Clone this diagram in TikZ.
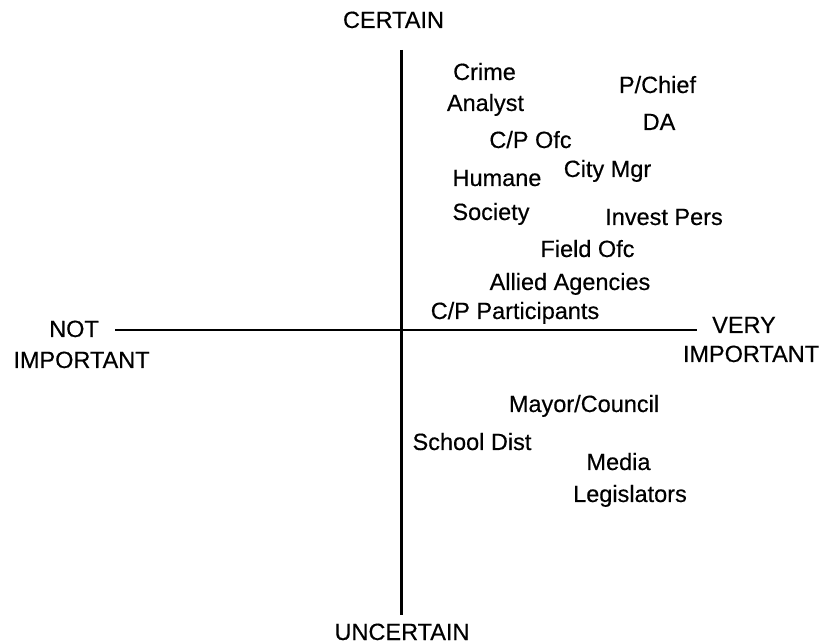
\documentclass[tikz,border=0pt]{standalone}
\usepackage{fontspec}
\setmainfont{Liberation Sans}
\newfontfamily\scanfont[FakeBold=0.4]{Liberation Sans}
\begin{document}
\begin{tikzpicture}[x=1pt,y=-1pt,
  lbl/.style={anchor=base,inner sep=0pt,font=\scanfont\fontsize{23.5}{28}\selectfont},
  axis/.style={line width=2.2pt,black}]
\useasboundingbox (0,0) rectangle (823,644);
% axes
\coordinate (vtop) at (401.5,50);
\coordinate (vbot) at (401.5,615);
\coordinate (hleft) at (115,330);
\coordinate (hright) at (697,330);
\draw[axis] (vtop) -- (vbot);
\draw[axis] (hleft) -- (hright);
% axis labels
\node[lbl] (certain) at (393.5,28) {CERTAIN};
\node[lbl] (uncertain) at (402,640) {UNCERTAIN};
\node[lbl] (not) at (74,337) {NOT};
\node[lbl] (impL) at (81.5,368) {IMPORTANT};
\node[lbl] (very) at (744,333) {VERY};
\node[lbl] (impR) at (751,362) {IMPORTANT};
% stakeholders
\node[lbl] (crime) at (484.5,80) {Crime};
\node[lbl] (analyst) at (485.5,111) {Analyst};
\node[lbl] (pchief) at (657.5,93) {P/Chief};
\node[lbl] (da) at (659,130) {DA};
\node[lbl] (cpofc) at (530.5,148) {C/P Ofc};
\node[lbl] (citymgr) at (607.5,177) {City Mgr};
\node[lbl] (humane) at (497,186) {Humane};
\node[lbl] (society) at (491,220) {Society};
\node[lbl] (invest) at (664,225) {Invest Pers};
\node[lbl] (field) at (587.5,257) {Field Ofc};
\node[lbl] (allied) at (570,290) {Allied Agencies};
\node[lbl] (cppart) at (515,319) {C/P Participants};
\node[lbl] (mayor) at (584,412) {Mayor/Council};
\node[lbl] (school) at (472,450) {School Dist};
\node[lbl] (media) at (618.5,470) {Media};
\node[lbl] (legis) at (630,502) {Legislators};
\end{tikzpicture}
\end{document}
